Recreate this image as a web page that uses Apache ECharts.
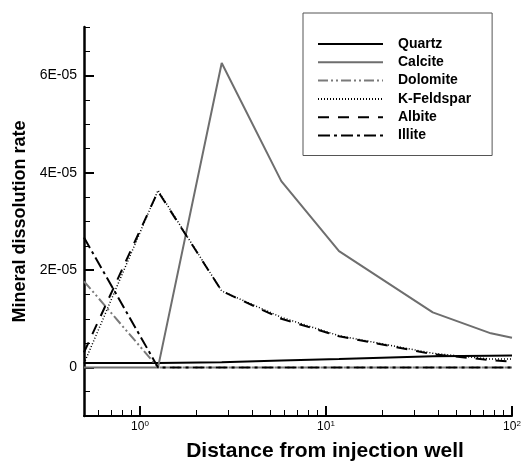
<!DOCTYPE html>
<html>
<head>
<meta charset="utf-8">
<script src="https://cdn.jsdelivr.net/npm/echarts@6/dist/echarts.min.js"></script>
<style>
  html, body { margin: 0; padding: 0; background: #fff; }
  #chart { width: 523px; height: 461px; }
</style>
</head>
<body>
<div id="chart"></div>
<script>
// distance from injection well (log axis)
const distance = [0.5, 1.25, 2.75, 5.75, 11.75, 37.5, 77, 100];
// dissolution rates
const quartz = [0.9e-6, 0.9e-6, 1.05e-6, 1.4e-6, 1.7e-6, 2.3e-6, 2.4e-6, 2.45e-6];
const calcite = [0, 0, 6.26e-5, 3.83e-5, 2.39e-5, 1.13e-5, 0.70e-5, 0.61e-5];
const dolomite = [1.77e-5, 0, 0, 0, 0, 0, 0, 0];
const kFeldspar = [0.08e-5, 3.64e-5, 1.57e-5, 1.03e-5, 0.65e-5, 0.29e-5, 0.17e-5, 0.17e-5];
const albite = [0.31e-5, 3.62e-5, 1.57e-5, 1.0e-5, 0.64e-5, 0.27e-5, 0.15e-5, 0.12e-5];
const illite = [2.67e-5, 0, 0, 0, 0, 0, 0, 0];
// ticks
const xMajorTicks = [1, 10, 100];
const xMinorTicks = [0.6, 0.7, 0.8, 0.9, 2, 3, 4, 5, 6, 7, 8, 9, 20, 30, 40, 50, 60, 70, 80, 90];
const yMajorTicks = [0, 2e-5, 4e-5, 6e-5];

const FONT = "'Liberation Sans', Arial, sans-serif";
const pairs = (ys) => distance.map((d, i) => [d, ys[i]]);

const line = (name, ys, color, width, type) => ({
  name: name,
  type: 'line',
  data: pairs(ys),
  symbol: 'none',
  xAxisIndex: 0,
  yAxisIndex: 0,
  lineStyle: { color: color, width: width, type: type },
  itemStyle: { color: color }
});

const chart = echarts.init(document.getElementById('chart'));
const option = {
  animation: false,
  backgroundColor: '#fff',
  grid: { left: 84, right: 11, top: 27, bottom: 45, outerBoundsMode: 'none', containLabel: false },
  legend: {
    orient: 'vertical',
    left: 303,
    top: 13,
    itemWidth: 65,
    itemHeight: 14,
    itemGap: 4.3,
    padding: [24, 21, 13, 14],
    borderColor: '#555',
    borderWidth: 1,
    itemStyle: { opacity: 0 }, // line only, no symbol
    textStyle: { fontFamily: FONT, fontWeight: 'bold', fontSize: 14, color: '#000', padding: [0, 0, 0, 10] }
  },
  xAxis: [
    {
      type: 'log',
      logBase: 10,
      min: 0.5,
      max: 100,
      name: 'Distance from injection well',
      nameLocation: 'middle',
      nameGap: 25,
      nameTextStyle: { fontFamily: FONT, fontWeight: 'bold', fontSize: 21, color: '#000', padding: [0, 0, 0, 54] },
      axisLine: { show: true, onZero: false, lineStyle: { color: '#000', width: 2 } },
      axisTick: { show: true, inside: true, length: 10, customValues: xMajorTicks, lineStyle: { color: '#000', width: 2 } },
      axisLabel: {
        show: true,
        customValues: xMajorTicks,
        margin: 4,
        formatter: (v) => '{a|10}{b|' + Math.round(Math.log10(v)) + '}',
        rich: {
          a: { fontFamily: FONT, fontSize: 12, color: '#000' },
          b: { fontFamily: FONT, fontSize: 8, color: '#000', padding: [0, 0, 6, 0] }
        }
      },
      splitLine: { show: false }
    },
    {
      // minor ticks only
      type: 'log',
      logBase: 10,
      min: 0.5,
      max: 100,
      position: 'bottom',
      axisLine: { show: false, onZero: false },
      axisTick: { show: true, inside: true, length: 6, customValues: xMinorTicks, lineStyle: { color: '#000', width: 1 } },
      axisLabel: { show: false },
      splitLine: { show: false }
    }
  ],
  yAxis: [
    {
      type: 'value',
      min: -1e-5,
      max: 7e-5,
      name: 'Mineral dissolution rate',
      nameLocation: 'middle',
      nameGap: 50,
      nameTextStyle: { fontFamily: FONT, fontWeight: 'bold', fontSize: 18, color: '#000' },
      axisLine: { show: true, onZero: false, lineStyle: { color: '#000', width: 2.5 } },
      axisTick: { show: true, inside: true, length: 10, customValues: yMajorTicks, lineStyle: { color: '#000', width: 2 } },
      axisLabel: {
        customValues: yMajorTicks,
        margin: 7,
        fontFamily: FONT,
        fontSize: 14,
        color: '#000',
        formatter: (v) => {
          const n = Math.round(v * 1e5);
          return n === 0 ? '0' : n + 'E-05';
        }
      },
      splitLine: { show: false }
    },
    {
      // minor ticks only
      type: 'value',
      min: -1e-5,
      max: 7e-5,
      interval: 5e-6,
      position: 'left',
      axisLine: { show: false, onZero: false },
      axisTick: { show: true, inside: true, length: 6, lineStyle: { color: '#000', width: 1 } },
      axisLabel: { show: false },
      splitLine: { show: false }
    }
  ],
  series: [
    line('Quartz', quartz, '#000', 2, 'solid'),
    line('Calcite', calcite, '#6e6e6e', 2, 'solid'),
    line('Dolomite', dolomite, '#7a7a7a', 2, [10, 3, 2, 3, 2, 3]),
    line('K-Feldspar', kFeldspar, '#000', 1.5, [1, 2]),
    line('Albite', albite, '#000', 2, [11, 9]),
    line('Illite', illite, '#000', 2, [12, 4, 3, 4])
  ]
};
chart.setOption(option);
</script>
</body>
</html>
